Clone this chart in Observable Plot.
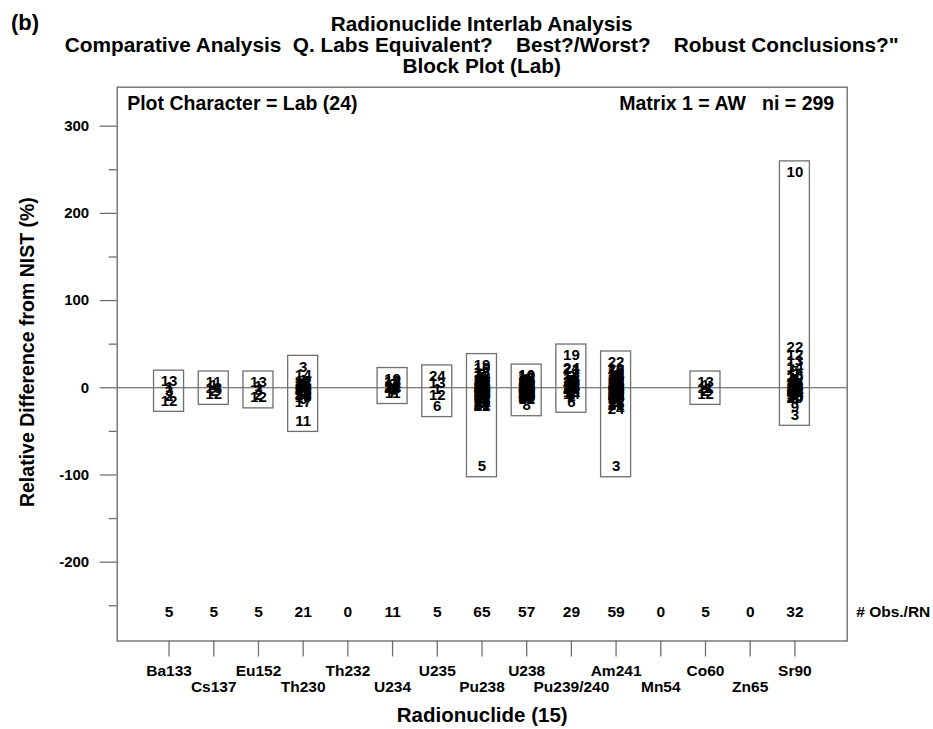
<!DOCTYPE html>
<html><head><meta charset="utf-8">
<script src="https://cdn.jsdelivr.net/npm/d3@7"></script>
<script src="https://cdn.jsdelivr.net/npm/@observablehq/plot@0.6"></script>
<style>
html,body{margin:0;padding:0;background:#fff;}
body{width:933px;height:729px;overflow:hidden;font-family:"Liberation Sans",Arial,sans-serif;font-weight:bold;color:#000;}
#hdr{position:relative;width:933px;height:78px;}
#b{position:absolute;left:11px;top:10px;font-size:22px;line-height:26px;}
#ttl{position:absolute;left:15.7px;width:932px;top:14px;text-align:center;font-size:20.8px;line-height:20.8px;white-space:pre;}
svg text{white-space:pre;}
</style></head><body>
<div id="hdr"><div id="b">(b)</div><div id="ttl"></div></div>
<div id="chart"></div>
<script>
// ---- text ----
const panelTag = "(b)";
const titleLines = [
  "Radionuclide Interlab Analysis",
  "Comparative Analysis  Q. Labs Equivalent?    Best?/Worst?    Robust Conclusions?\"",
  "Block Plot (Lab)"
];
const yLabel = "Relative Difference from NIST (%)";
const xLabelBase = "Radionuclide";
const obsLabel = "# Obs./RN";
const plotCharText = "Plot Character = Lab (24)";
const matrixText = "Matrix 1 = AW";

// ---- categories ----
const radionuclides = ["Ba133","Cs137","Eu152","Th230","Th232","U234","U235","Pu238","U238","Pu239/240","Am241","Mn54","Co60","Zn65","Sr90"];
const obsPerRN = [5,5,5,21,0,11,5,65,57,29,59,0,5,0,32];

// ---- tick values ----
const yMajorTicks = [-200,-100,0,100,200,300];
const yMinorTicks = [-250,-150,-50,50,150,250];

// ---- observations: [lab, relative difference %] ----
const ba133 = [[13,7],[1,1],[3,-4],[2,-10],[12,-15]];
const cs137 = [[11,6],[1,3],[13,0],[2,-4],[12,-7]];
const eu152 = [[13,6],[1,2],[3,-3],[2,-8],[12,-11]];
const th230 = [[3,24],[14,14],[1,9],[12,7],[13,5],[2,4],[21,3],[7,2],[10,1],[4,0],[16,-1],[22,-2],[18,-3],[9,-4],[6,-5],[20,-7],[19,-9],[15,-11],[5,-13],[17,-16],[11,-38]];
const th232 = [];
const u234 = [[19,10],[13,8],[18,6],[2,4],[14,3],[21,1],[24,0],[1,-2],[4,-3],[7,-5],[11,-6]];
const u235 = [[24,13],[13,5],[1,-2],[12,-9],[6,-21]];
const pu238 = [[19,26],[10,22],[13,18],[2,16],[14,14],[7,12],[1,11],[16,10],[20,9],[4,8],
  [11,7],[12,6],[3,6],[9,5],[18,5],[15,4],[23,4],[6,3],[8,3],[17,2],
  [24,2],[22,1],[21,1],[10,1],[13,0],[2,0],[14,0],[7,0],[1,-1],[16,-1],
  [20,-1],[4,-2],[11,-2],[12,-2],[3,-3],[9,-3],[18,-3],[15,-4],[23,-4],[6,-4],
  [8,-5],[17,-5],[24,-6],[19,-6],[13,-7],[2,-7],[14,-8],[7,-8],[1,-9],[16,-9],
  [20,-10],[4,-11],[11,-11],[12,-12],[3,-13],[9,-13],[18,-14],[15,-15],[6,-16],[23,-17],
  [8,-18],[24,-19],[21,-20],[22,-21],[5,-90]];
const u238 = [[10,14],[19,13],[13,11],[2,10],[14,9],[7,8],[1,8],[16,7],[20,6],[4,6],
  [11,5],[12,5],[3,4],[9,4],[18,3],[15,3],[23,3],[6,2],[17,2],[24,2],
  [22,1],[21,1],[5,1],[10,0],[13,0],[2,0],[14,0],[7,-1],[1,-1],[16,-1],
  [20,-2],[4,-2],[11,-2],[12,-3],[3,-3],[9,-3],[18,-4],[15,-4],[23,-5],[6,-5],
  [17,-5],[24,-6],[22,-6],[21,-7],[5,-7],[19,-8],[13,-8],[2,-9],[14,-9],[7,-10],
  [1,-10],[16,-11],[20,-11],[4,-12],[11,-12],[12,-13],[8,-20]];
const pu239240 = [[19,37],[24,23],[21,21],[13,16],[2,13],[14,11],[7,9],[1,8],[16,7],[20,6],
  [4,5],[11,4],[12,3],[3,2],[9,2],[18,1],[15,0],[23,0],[10,-1],[17,-2],
  [22,-2],[5,-3],[8,-4],[13,-5],[2,-6],[14,-7],[7,-8],[1,-10],[6,-16]];
const am241 = [[22,29],[20,21],[16,19],[13,17],[2,15],[14,14],[7,12],[1,11],[10,10],[4,9],
  [11,8],[12,7],[9,7],[18,6],[15,5],[23,5],[6,4],[8,4],[17,3],[21,3],
  [5,2],[19,2],[13,1],[2,1],[14,0],[7,0],[1,0],[10,-1],[4,-1],[11,-2],
  [12,-2],[9,-3],[18,-3],[15,-4],[23,-4],[6,-5],[8,-5],[17,-6],[21,-6],[5,-7],
  [19,-7],[16,-8],[20,-8],[22,-9],[13,-10],[2,-10],[14,-11],[7,-12],[1,-12],[10,-13],
  [4,-14],[11,-15],[12,-16],[9,-17],[18,-18],[15,-19],[21,-20],[24,-24],[3,-90]];
const mn54 = [];
const co60 = [[13,6],[1,3],[11,0],[2,-4],[12,-7]];
const zn65 = [];
const sr90 = [[10,247],[22,46],[12,37],[13,30],[14,24],[5,19],[18,15],[20,12],[2,10],[7,8],
  [1,6],[16,5],[4,4],[11,3],[15,2],[23,1],[6,0],[8,0],[17,-1],[21,-2],
  [19,-3],[24,-4],[13,-5],[2,-6],[14,-7],[7,-8],[1,-9],[16,-10],[20,-12],[4,-14],
  [9,-22],[3,-31]];

const labData = [ba133,cs137,eu152,th230,th232,u234,u235,pu238,u238,pu239240,am241,mn54,co60,zn65,sr90];

// ---- build ----
document.getElementById("b").textContent = panelTag;
document.getElementById("ttl").textContent = titleLines.join("\n");

const idx = radionuclides.map((_, i) => i + 1);
const oddIdx = idx.filter(i => i % 2 === 1);
const evenIdx = idx.filter(i => i % 2 === 0);
const points = [];
labData.forEach((arr, i) => arr.forEach(([lab, v]) => points.push({i: i + 1, lab, v})));
const blocks = labData.map((arr, i) => ({i: i + 1, n: arr.length,
  lo: d3.min(arr, d => d[1]), hi: d3.max(arr, d => d[1])})).filter(d => d.n > 0);
const nTotal = d3.sum(obsPerRN);
const gray = "#6f6f6f";
const font = "'Liberation Sans', Arial, sans-serif";

const chart = Plot.plot({
  width: 933, height: 651,
  marginTop: 8.7, marginRight: 86.3, marginBottom: 88.5, marginLeft: 116.7,
  x: {domain: [-0.16, 16.17]},
  y: {domain: [-290.4, 344.7]},
  style: {fontFamily: font, fontWeight: "bold", fontSize: "15px", color: "#000", background: "#fff", overflow: "visible"},
  marks: [
    Plot.ruleY([0], {stroke: "#555", strokeWidth: 1.1}),
    Plot.rect(blocks, {x1: "i", x2: "i", y1: "lo", y2: "hi",
      insetLeft: -15, insetRight: -15, insetTop: -11, insetBottom: -11,
      fill: "none", stroke: gray, strokeWidth: 1.3}),
    Plot.text(points, {x: "i", y: "v", text: "lab", fontSize: 15, fill: "#000"}),
    Plot.frame({stroke: gray, strokeWidth: 1.4}),
    Plot.axisY({ticks: yMajorTicks, tickSize: 17, tickPadding: 11, tickFormat: d => String(d),
      fontSize: 15, label: null, stroke: gray, strokeWidth: 1.3}),
    Plot.axisY({ticks: yMinorTicks, tickSize: 8, tickFormat: () => "", label: null, stroke: gray, strokeWidth: 1.3}),
    Plot.axisX({ticks: idx, tickSize: 16, tickFormat: () => "", label: null, stroke: gray, strokeWidth: 1.3}),
    Plot.axisX({ticks: oddIdx, tickSize: 0, tickPadding: 24, tickFormat: i => radionuclides[i - 1], fontSize: 15.5, label: null}),
    Plot.axisX({ticks: evenIdx, tickSize: 0, tickPadding: 40, tickFormat: i => radionuclides[i - 1], fontSize: 15.5, label: null}),
    Plot.text(idx, {x: d => d, text: d => String(obsPerRN[d - 1]), frameAnchor: "bottom", dy: -24, fontSize: 15.5}),
    Plot.text([obsLabel], {text: d => d, frameAnchor: "bottom-right", textAnchor: "start", dx: 9, dy: -24, fontSize: 15.5}),
    Plot.text([plotCharText], {text: d => d, frameAnchor: "top-left", textAnchor: "start", lineAnchor: "middle", dx: 10, dy: 17, fontSize: 19.5}),
    Plot.text([matrixText + "   ni = " + nTotal], {text: d => d, frameAnchor: "top-right", textAnchor: "end", lineAnchor: "middle", dx: -13, dy: 17, fontSize: 19.5}),
    Plot.text([yLabel], {text: d => d, frameAnchor: "left", textAnchor: "middle", rotate: -90, dx: -89, dy: -12, fontSize: 19.5}),
    Plot.text([xLabelBase + " (" + radionuclides.length + ")"], {text: d => d, frameAnchor: "bottom", dy: 81, fontSize: 20.5})
  ]
});
document.getElementById("chart").appendChild(chart);
</script>
</body></html>
